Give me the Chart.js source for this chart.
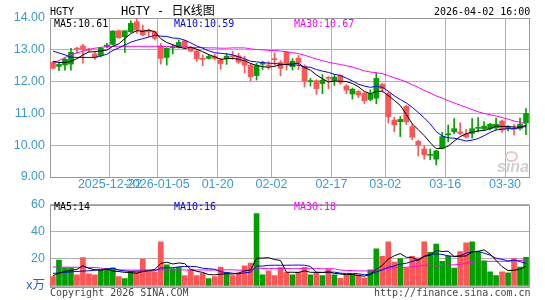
<!DOCTYPE html>
<html><head><meta charset="utf-8">
<script src="https://cdn.jsdelivr.net/npm/chart.js@4.4.1/dist/chart.umd.min.js"></script>
<style>
html,body{margin:0;padding:0;background:#fff;}
#wrap{position:relative;width:545px;height:300px;overflow:hidden;background:#fff;}
canvas{position:absolute;left:0;}
.t{position:absolute;white-space:pre;font-family:'DejaVu Sans Mono','Noto Sans CJK SC',monospace;font-size:10px;line-height:12px;z-index:2;color:#000;}
</style></head><body>
<div id="wrap">
<canvas id="kc" width="545" height="192" style="top:0"></canvas>
<canvas id="vc" width="545" height="108" style="top:192px"></canvas>
<div class="t" style="left:50px;top:6px;">HGTY</div>
<div class="t" style="left:121px;top:4px;font-size:12px;line-height:14px;">HGTY - 日K线图</div>
<div class="t" style="left:434px;top:6px;">2026-04-02 16:00</div>
<div class="t" style="left:54px;top:17.5px;">MA5:10.61</div>
<div class="t" style="left:174px;top:17.5px;color:#0000ff;">MA10:10.59</div>
<div class="t" style="left:294px;top:17.5px;color:#ff00ff;">MA30:10.67</div>
<div class="t" style="left:54px;top:200.5px;">MA5:14</div>
<div class="t" style="left:174px;top:200.5px;color:#0000ff;">MA10:16</div>
<div class="t" style="left:294px;top:200.5px;color:#ff00ff;">MA30:18</div>
<div class="t" style="left:50px;top:286.5px;color:#444;">Copyright 2026 SINA.COM</div>
<div class="t" style="left:374px;top:286.5px;color:#444;">http://finance.sina.com.cn</div>
<div style="position:absolute;left:505px;top:151px;width:9px;height:7px;border:2px solid #f3c4c4;border-radius:50%;z-index:1;"></div>
<div style="position:absolute;left:497px;top:158.5px;font:italic bold 16px 'Liberation Sans',sans-serif;line-height:16px;color:#cfcfcf;z-index:1;">sina</div>
</div>
<script>
const dates = ['2025-12-08','2025-12-09','2025-12-10','2025-12-11','2025-12-12','2025-12-15','2025-12-16','2025-12-17','2025-12-18','2025-12-19','2025-12-22','2025-12-23','2025-12-24','2025-12-26','2025-12-29','2025-12-30','2025-12-31',
'2026-01-02','2026-01-05','2026-01-06','2026-01-07','2026-01-08','2026-01-09','2026-01-12','2026-01-13','2026-01-14','2026-01-15','2026-01-16','2026-01-20','2026-01-21','2026-01-22','2026-01-23','2026-01-26','2026-01-27','2026-01-28','2026-01-29','2026-01-30',
'2026-02-02','2026-02-03','2026-02-04','2026-02-05','2026-02-06','2026-02-09','2026-02-10','2026-02-11','2026-02-12','2026-02-13','2026-02-17','2026-02-18','2026-02-19','2026-02-20','2026-02-23','2026-02-24','2026-02-25','2026-02-26','2026-02-27',
'2026-03-02','2026-03-03','2026-03-04','2026-03-05','2026-03-06','2026-03-09','2026-03-10','2026-03-11','2026-03-12','2026-03-13','2026-03-16','2026-03-17','2026-03-18','2026-03-19','2026-03-20','2026-03-23','2026-03-24','2026-03-25','2026-03-26','2026-03-27','2026-03-30','2026-03-31',
'2026-04-01','2026-04-02'];

const tickDates = ['2025-12-22','2026-01-05','2026-01-20','2026-02-02','2026-02-17','2026-03-02','2026-03-16','2026-03-30'];
const tickText  = ['2025-12-22','2026-01-05','01-20','02-02','02-17','03-02','03-16','03-30'];

const open = [12.60,12.48,12.52,12.55,13.04,13.12,13.01,12.87,12.82,13.10, 13.17,13.60,13.41,13.57,13.88,13.62,13.58,13.57,13.12,12.76, 13.06,13.07,13.28,13.07,12.96,12.72,12.73,12.79,12.68,12.72, 12.80,12.81,12.68,12.52,12.19,12.55,12.51,12.71,12.60,12.93, 12.47,12.74,12.48,12.00,12.03,11.94,12.12,12.04,12.20,11.86, 11.61,11.69,11.63,11.44,11.48,11.91,11.62,10.79,10.74,11.22, 10.58,10.12,9.88,9.68,9.56,9.90,10.33,10.42,10.42,10.36, 10.37,10.53,10.51,10.52,10.54,10.76,10.53,10.52,10.53,10.70];
const high = [12.63,12.60,12.74,13.05,13.08,13.17,13.05,12.92,13.08,13.20, 13.60,13.62,13.60,13.91,13.99,13.78,13.65,13.59,13.20,13.06, 13.17,13.31,13.31,13.10,13.00,12.84,12.84,12.86,12.73,12.89, 12.95,12.89,12.80,12.57,12.57,12.64,12.63,12.90,12.66,12.95, 12.72,12.82,12.53,12.10,12.06,12.22,12.16,12.22,12.21,11.91, 11.80,11.72,11.67,11.74,12.27,11.95,11.68,10.88,10.90,11.25, 10.66,10.16,9.98,9.88,9.84,10.40,10.63,10.84,10.70,10.50, 10.84,10.87,10.74,10.69,10.85,10.79,10.62,10.66,10.85,11.15];
const low = [12.40,12.34,12.36,12.36,12.89,12.58,12.93,12.70,12.78,13.07, 13.15,13.36,12.92,13.55,13.52,13.44,13.41,13.31,12.55,12.52, 12.87,13.05,13.05,12.94,12.63,12.50,12.71,12.68,12.39,12.54, 12.70,12.57,12.27,12.03,12.05,12.38,12.39,12.51,12.18,12.36, 12.36,12.38,11.83,11.86,11.60,11.62,11.78,11.88,11.92,11.62, 11.45,11.50,11.31,11.40,11.30,11.67,10.70,10.42,10.27,10.65, 10.17,9.66,9.56,9.54,9.38,9.88,10.10,10.36,10.33,10.22, 10.22,10.42,10.48,10.48,10.48,10.40,10.45,10.32,10.48,10.33];
const close = [12.42,12.54,12.70,12.92,13.02,13.01,12.99,12.76,13.05,13.15, 13.59,13.38,13.60,13.83,13.62,13.47,13.56,13.36,12.73,13.05, 13.08,13.23,13.10,12.96,12.72,12.70,12.79,12.73,12.57,12.80, 12.78,12.61,12.52,12.15,12.50,12.57,12.49,12.69,12.42,12.54, 12.64,12.60,12.02,12.02,11.78,12.04,12.10,12.14,11.98,11.73, 11.76,11.58,11.40,11.62,12.10,11.78,10.90,10.64,10.81,10.73, 10.25,10.00,9.70,9.70,9.82,10.27,10.36,10.52,10.37,10.26, 10.52,10.56,10.60,10.66,10.66,10.48,10.54,10.50,10.66,11.00];

const ma5 = [12.64,12.60,12.60,12.64,12.72,12.84,12.93,12.94,12.97,12.99, 13.11,13.19,13.35,13.51,13.60,13.58,13.62,13.57,13.35,13.23, 13.16,13.09,13.04,13.08,13.02,12.94,12.85,12.78,12.70,12.72, 12.73,12.70,12.66,12.57,12.51,12.47,12.45,12.48,12.53,12.54, 12.56,12.58,12.44,12.36,12.21,12.09,11.99,12.02,12.01,12.00, 11.94,11.84,11.69,11.62,11.69,11.70,11.56,11.41,11.25,10.97, 10.67,10.49,10.30,10.08,9.89,9.90,9.97,10.13,10.27,10.36, 10.41,10.45,10.46,10.52,10.60,10.59,10.59,10.57,10.57,10.62];
const ma10 = [12.96,12.90,12.84,12.77,12.76,12.76,12.76,12.76,12.81,12.86, 12.98,13.06,13.15,13.24,13.30,13.35,13.40,13.46,13.43,13.42, 13.37,13.36,13.30,13.22,13.12,13.05,12.97,12.91,12.89,12.87, 12.84,12.78,12.72,12.64,12.62,12.60,12.58,12.57,12.55,12.53, 12.52,12.52,12.46,12.45,12.38,12.33,12.29,12.23,12.19,12.11, 12.02,11.92,11.86,11.82,11.85,11.82,11.70,11.55,11.44,11.33, 11.19,11.03,10.86,10.67,10.43,10.29,10.23,10.22,10.18,10.13, 10.16,10.21,10.30,10.40,10.48,10.50,10.52,10.52,10.55,10.59];
const ma30 = [12.58,12.66,12.76,12.84,12.90,12.96,13.01,13.05,13.08,13.10, 13.11,13.11,13.11,13.11,13.11,13.11,13.11,13.11,13.11,13.10, 13.10,13.09,13.09,13.08,13.07,13.07,13.06,13.06,13.05,13.05, 13.06,13.06,13.06,13.03,13.01,13.00,12.98,12.98,12.96,12.94, 12.91,12.88,12.83,12.77,12.71,12.66,12.61,12.57,12.54,12.50, 12.46,12.40,12.34,12.30,12.28,12.25,12.19,12.12,12.06,11.99, 11.90,11.82,11.72,11.64,11.55,11.48,11.40,11.33,11.26,11.19, 11.12,11.05,11.00,10.96,10.92,10.87,10.82,10.76,10.72,10.68];

const volume = [6.9,19,13.3,13.3,8.3,21,9,8.3,11.7,12.9, 13.3,6.9,5.5,10.7,10.5,19.8,10,10,32.6,15.5, 12.9,13.8,7.6,11.9,7.6,9.3,5.5,6.9,14,9.8, 7.6,9.5,14.8,16.9,53.3,8.3,11.2,7.6,13.6,10, 8.3,10.2,13.6,8.3,10,7.6,12.4,8.3,5.7,7.9, 8.3,8.3,6,11.9,27.4,21.8,32.5,17.6,20.2,13.4, 21.8,20.8,32.5,24.7,30.8,18.2,22,13.2,25.4,31.8, 32.5,24.7,18.5,10.4,7.6,10.4,9.7,20.1,14,21.1];
const vma5 = [7.5,9.5,10.8,11.5,12.16,14.98,12.98,11.98,11.66,12.58, 11.04,10.62,10.06,9.86,9.38,10.68,11.3,12.2,16.58,17.58, 16.2,16.96,16.48,12.34,10.76,10.04,8.38,8.24,8.66,9.1, 8.76,9.56,11.14,11.72,20.42,20.56,20.9,19.46,18.8,10.14, 10.14,9.94,11.14,10.08,10.08,9.94,10.38,9.32,8.8,8.38, 8.52,7.7,7.24,8.48,12.38,15.08,19.92,22.24,23.9,21.1, 21.1,18.76,21.74,22.64,26.12,25.4,25.64,21.78,21.92,22.12, 24.98,25.52,26.58,23.58,18.74,14.32,11.32,11.64,12.36,14.6];
const vma10 = [9.3,9.6,10.0,10.4,10.7,11.0,11.2,11.6,12.0,12.37, 13.01,11.8,11.02,10.76,10.98,10.86,10.96,11.13,13.22,13.48, 13.44,14.13,14.34,14.46,14.17,13.12,12.67,12.36,10.5,9.93, 9.4,8.97,9.69,10.19,14.76,14.66,15.23,15.3,15.26,15.28, 15.35,15.42,15.3,14.44,10.11,10.04,10.16,10.23,9.44,9.23, 9.23,9.04,8.28,8.64,10.38,11.8,13.81,14.74,16.19,16.74, 18.09,19.34,21.99,23.27,23.61,23.25,22.2,21.76,22.28,24.12, 25.19,25.58,24.18,22.75,20.43,19.65,18.42,19.11,17.97,16.6];
const vma30 = [14.0,13.9,13.9,13.8,13.8,13.7,13.7,13.6,13.2,12.6, 12.2,11.9,11.8,11.7,11.7,11.8,11.8,11.7,11.9,11.9, 11.9,11.9,11.8,11.8,11.8,11.8,11.7,11.7,11.8,11.93, 11.95,11.63,11.68,11.8,13.3,12.88,12.95,12.93,12.99,12.9, 12.73,12.84,13.11,13.03,13.01,12.61,12.69,12.63,11.73,11.48, 11.33,11.14,11.09,11.09,11.75,12.17,13.07,13.42,13.63,13.75, 14.22,14.6,15.19,15.45,14.7,15.03,15.39,15.58,15.97,16.7, 17.5,17.99,18.15,18.22,18.14,18.23,18.14,18.54,18.81,19.0];

const UP = '#00a000', DOWN = '#ff5555';
const GRID = '#b0b0b0', FRAME = '#999999', AXIS = '#3a9ad9';
const AXFONT = {family: "'Liberation Sans','Noto Sans CJK SC',sans-serif", size: 12.5};
const candleColor = close.map((c, i) => c >= open[i] ? UP : DOWN);

const framePlugin = {
  id: 'frame',
  beforeDatasetsDraw(chart) {
    const {ctx, chartArea: a} = chart;
    ctx.save();
    ctx.strokeStyle = FRAME;
    ctx.lineWidth = 1;
    ctx.strokeRect(Math.round(a.left) + 0.5, Math.round(a.top) + 0.5, Math.round(a.right - a.left), Math.round(a.bottom - a.top));
    ctx.restore();
  }
};

function lineDs(label, data, color, order) {
  return {type: 'line', label, data, borderColor: color, borderWidth: 1, pointRadius: 0, tension: 0, fill: false, order};
}

const isGridIdx = i => i < dates.length && tickDates.includes(dates[i]);

new Chart(document.getElementById('kc'), {
  type: 'bar',
  data: {
    labels: dates,
    datasets: [
      lineDs('MA5', ma5, '#000000', 0),
      lineDs('MA10', ma10, '#0000ff', 1),
      lineDs('MA30', ma30, '#ff00ff', 2),
      {type: 'bar', label: 'body', data: open.map((o, i) => [o, close[i]]), backgroundColor: candleColor, barThickness: 5, grouped: false, minBarLength: 1, borderWidth: 0, order: 3},
      {type: 'bar', label: 'wick', data: low.map((l, i) => [l, high[i]]), backgroundColor: candleColor, barThickness: 1, grouped: false, borderWidth: 0, order: 4}
    ]
  },
  options: {
    responsive: false, animation: false, devicePixelRatio: 1, events: [],
    layout: {padding: {top: 18, right: 16, left: 0, bottom: 0}},
    plugins: {legend: {display: false}, tooltip: {enabled: false}},
    scales: {
      x: {
        type: 'category', offset: true,
        grid: {offset: true, drawTicks: false, color: c => isGridIdx(c.index) ? GRID : 'rgba(0,0,0,0)'},
        border: {display: false},
        ticks: {autoSkip: false, maxRotation: 0, minRotation: 0, padding: 0, labelOffset: -3, color: AXIS, font: AXFONT,
          callback: (v, i) => { const k = tickDates.indexOf(dates[i]); return k >= 0 ? tickText[k] : ''; }},
        afterFit: s => { s.height = 15; }
      },
      y: {
        min: 9, max: 14,
        grid: {drawTicks: false, color: GRID},
        border: {display: false},
        ticks: {stepSize: 0.5, padding: 5, color: AXIS, font: AXFONT, callback: v => v.toFixed(2)},
        afterFit: s => { s.width = 50; }
      }
    }
  },
  plugins: [framePlugin]
});

new Chart(document.getElementById('vc'), {
  type: 'bar',
  data: {
    labels: dates,
    datasets: [
      lineDs('MA5', vma5, '#000000', 0),
      lineDs('MA10', vma10, '#0000ff', 1),
      lineDs('MA30', vma30, '#ff00ff', 2),
      {type: 'bar', label: 'vol', data: volume, backgroundColor: candleColor, barThickness: 5, borderWidth: 0, order: 3}
    ]
  },
  options: {
    responsive: false, animation: false, devicePixelRatio: 1, events: [],
    layout: {padding: {top: 10, right: 16, left: 0, bottom: 14}},
    plugins: {legend: {display: false}, tooltip: {enabled: false}},
    scales: {
      x: {type: 'category', offset: true, display: false},
      y: {
        min: 0, max: 60,
        grid: {drawTicks: false, color: GRID},
        border: {display: false},
        ticks: {stepSize: 20, padding: 5, font: AXFONT,
          color: c => (c.tick && c.tick.value === 0) ? '#2a62c9' : AXIS,
          callback: v => v === 0 ? 'x万' : String(v)},
        afterFit: s => { s.width = 50; }
      }
    }
  },
  plugins: [framePlugin]
});
</script>
</body></html>
